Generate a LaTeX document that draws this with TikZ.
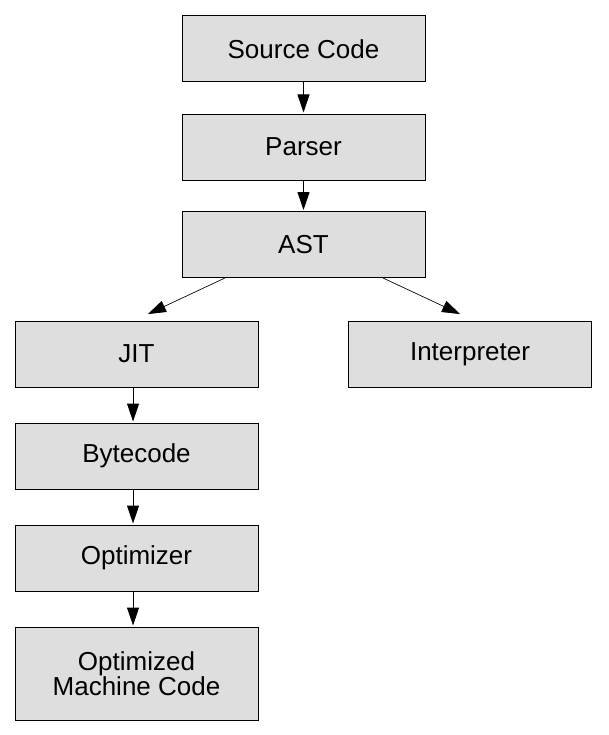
\documentclass[tikz,border=0pt]{standalone}
\usepackage{fontspec}
\setmainfont{Liberation Sans}
\usetikzlibrary{arrows.meta,positioning}

\tikzset{
  stage/.style={draw,fill=black!13,line width=0.75pt,minimum width=182.25pt,minimum height=49.5pt,
    inner sep=0pt,align=center,font=\fontsize{19.5}{18}\selectfont},
  flow/.style={-{Triangle[length=13.5pt,width=9pt]},line width=0.75pt,shorten >=0.75pt}
}

\begin{document}
\begin{tikzpicture}[x=0.75pt,y=-0.75pt]
\useasboundingbox (0,0) rectangle (608,735);
\foreach \t/\y [count=\n] in {Source Code/49,Parser/147,AST/244.5}
  \node[stage] (S\n) at (303.5,\y) {\t};
\foreach \t/\y [count=\n] in {JIT/354,Bytecode/456,Optimizer/558}
  \node[stage] (J\n) at (136.5,\y) {\t};
\node[stage,minimum height=69.75pt] (J4) at (136.5,673.5) {Optimized\\Machine Code};
\node[stage] (I) at (470,354) {Interpreter};

\draw[flow] (S1) -- (S2);
\draw[flow] (S2) -- (S3);
\draw[flow] ([xshift=-2.6pt]J1.south) -- ([xshift=-2.6pt]J2.north);
\draw[flow] ([xshift=-2.6pt]J2.south) -- ([xshift=-2.6pt]J3.north);
\draw[flow] ([xshift=-2.6pt]J3.south) -- ([xshift=-2.6pt]J4.north);

% branches out of the AST
\coordinate (jitend) at ([xshift=7.9pt,yshift=4.5pt]J1.north);
\coordinate (intend) at ([xshift=-6.75pt,yshift=4.5pt]I.north);
\draw[flow,line width=0.5pt] ([xshift=-58.9pt]S3.south) -- (jitend);
\draw[flow,line width=0.5pt] ([xshift=59.6pt]S3.south) -- (intend);
\end{tikzpicture}
\end{document}
